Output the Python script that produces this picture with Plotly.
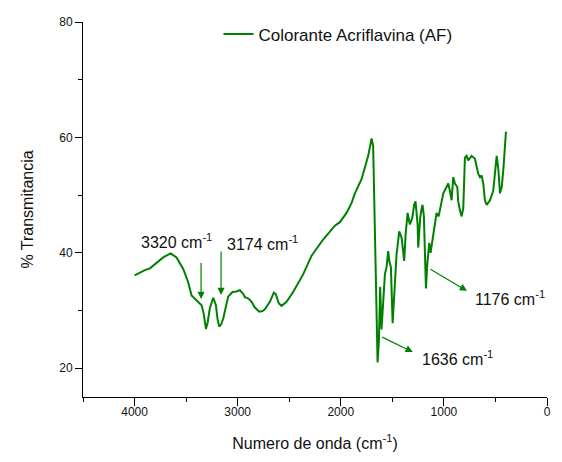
import plotly.graph_objects as go

wavenumber = [4000, 3950, 3900, 3851, 3800, 3722, 3651, 3593, 3528, 3480, 3447, 3399, 3350, 3330,
              3308, 3290, 3270, 3237, 3211, 3195, 3179, 3160, 3140, 3092, 3050, 3011, 2979, 2947,
              2930, 2898, 2865, 2833, 2791, 2760, 2736, 2688, 2660, 2649, 2630, 2617, 2600, 2574,
              2526, 2462, 2364, 2283, 2171, 2057, 2009, 1944, 1896, 1863, 1798, 1734, 1708, 1701,
              1686, 1669, 1653, 1643, 1630, 1618, 1605, 1589, 1572, 1556, 1540, 1530, 1514, 1497,
              1482, 1459, 1433, 1410, 1385, 1371, 1352, 1330, 1307, 1288, 1275, 1262, 1255, 1249,
              1240, 1230, 1216, 1207, 1194, 1184, 1174, 1162, 1142, 1129, 1110, 1087, 1071, 1051,
              1032, 1006, 974, 958, 942, 925, 909, 893, 870, 861, 845, 828, 812, 796, 780, 764,
              731, 699, 667, 650, 634, 618, 602, 585, 553, 521, 488, 472, 456, 439, 423, 407, 398]
transmittance = [36.1, 36.6, 37.0, 37.3, 38.0, 39.2, 39.9, 39.2, 37.2, 34.9, 32.6, 31.8, 30.9, 29.5,
                 26.8, 28.0, 30.4, 32.2, 30.9, 28.5, 27.2, 27.6, 28.6, 32.4, 33.2, 33.3, 33.5, 32.9,
                 32.3, 32.1, 31.5, 30.5, 29.8, 29.9, 30.2, 31.5, 32.6, 33.1, 32.8, 32.1, 31.2, 30.8,
                 31.5, 33.2, 36.3, 39.5, 42.3, 44.7, 45.3, 46.9, 48.6, 50.3, 52.8, 56.8, 59.7, 59.8,
                 58.5, 44.3, 27.2, 21.0, 24.9, 34.1, 26.7, 31.8, 36.3, 37.5, 40.3, 38.6, 37.5, 27.8,
                 32.9, 39.7, 43.7, 42.6, 38.6, 43.2, 46.9, 44.9, 46.0, 48.3, 48.9, 47.0, 44.9, 40.9,
                 44.0, 46.0, 47.7, 48.3, 46.3, 41.7, 33.8, 37.8, 41.7, 40.0, 42.3, 45.7, 46.9, 46.3,
                 48.0, 50.3, 51.4, 52.0, 50.8, 49.1, 53.1, 52.0, 51.4, 48.9, 47.4, 46.3, 47.7, 56.5,
                 56.8, 56.0, 56.8, 56.3, 53.7, 53.1, 53.4, 52.0, 49.1, 48.3, 49.1, 50.8, 56.8, 54.5,
                 50.3, 51.4, 54.5, 58.8, 61.0]

series_name = "Colorante Acriflavina (AF)"
peak_labels = ["3320 cm<sup>-1</sup>", "3174 cm<sup>-1</sup>", "1176 cm<sup>-1</sup>", "1636 cm<sup>-1</sup>"]
label_pos = [(3590, 42.1), (2764, 41.7), (360, 32.2), (864, 21.8)]
arrow_tail = [(3355, 38.5), (3161, 40.5), (1145, 37.3), (1612, 25.5)]
arrow_head = [(3355, 32.0), (3161, 32.7), (776, 33.4), (1302, 22.8)]

GREEN = "#008000"
FONT = "Arial, Liberation Sans, sans-serif"

fig = go.Figure()
fig.add_trace(go.Scatter(x=wavenumber, y=transmittance, mode="lines", name=series_name,
                         line=dict(color=GREEN, width=2)))

annotations = []
for txt, (x, y) in zip(peak_labels, label_pos):
    annotations.append(dict(x=x, y=y, xref="x", yref="y", text=txt, showarrow=False,
                            font=dict(family=FONT, size=16, color="#111")))
for (tx, ty), (hx, hy) in zip(arrow_tail, arrow_head):
    annotations.append(dict(x=hx, y=hy, ax=tx, ay=ty, xref="x", yref="y", axref="x", ayref="y",
                            text="", showarrow=True, arrowhead=2, arrowsize=1.2, arrowwidth=1.2,
                            arrowcolor=GREEN, standoff=0, startstandoff=0))

# page body has an 8px margin; figure is sized/margined so the plot area lands where the reference has it
fig.update_layout(
    width=554, height=454,
    margin=dict(l=75, r=15, t=8, b=65),
    paper_bgcolor="white", plot_bgcolor="white",
    font=dict(family=FONT, size=12, color="#111"),
    showlegend=True,
    legend=dict(x=0.292, y=1.015, xanchor="left", yanchor="top", bgcolor="rgba(0,0,0,0)",
                font=dict(family=FONT, size=17, color="#111")),
    annotations=annotations,
    xaxis=dict(range=[4500, 0], automargin=False, showgrid=False, zeroline=False, showline=True,
               linecolor="black", linewidth=1, ticks="outside", ticklen=8, tickcolor="black",
               dtick=1000, tick0=0, tickfont=dict(size=12, color="#111"), ticklabelstandoff=-4,
               minor=dict(ticks="outside", ticklen=4, dtick=500, tick0=0, tickcolor="black"),
               title=dict(text="Numero de onda (cm<sup>-1</sup>)", font=dict(size=16, color="#111"),
                          standoff=19)),
    yaxis=dict(range=[15, 80], automargin=False, showgrid=False, zeroline=False, showline=True,
               linecolor="black", linewidth=1, ticks="outside", ticklen=7, tickcolor="black",
               dtick=20, tick0=0, tickfont=dict(size=12, color="#111"),
               minor=dict(ticks="outside", ticklen=4, dtick=10, tick0=0, tickcolor="black"),
               title=dict(text="% Transmitancia", font=dict(size=16, color="#111"), standoff=21)),
)

fig.write_html("out.html")
